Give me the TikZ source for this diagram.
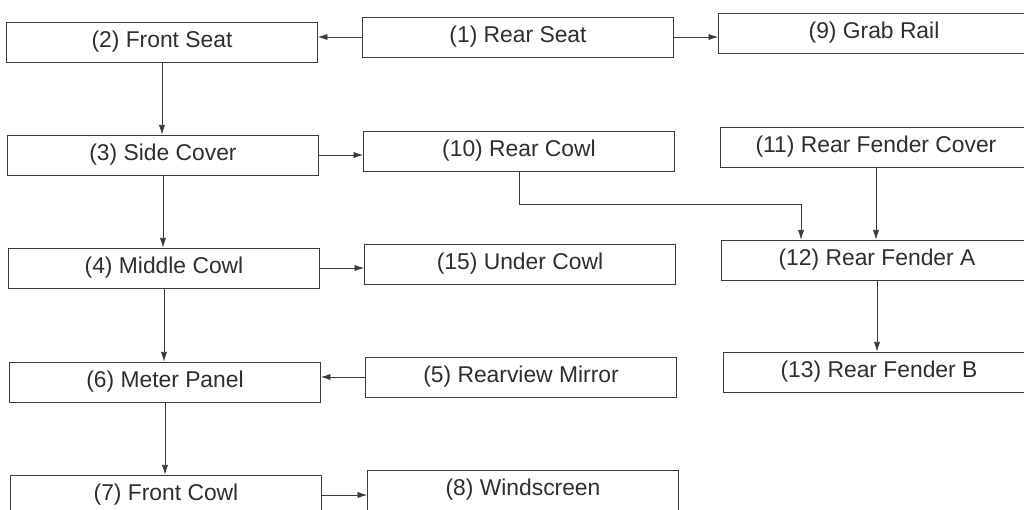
\documentclass[tikz,border=0pt]{standalone}
\usepackage{fontspec}
\setmainfont{Liberation Sans}
\usepackage{xcolor}
\usetikzlibrary{arrows.meta}
\definecolor{inkc}{HTML}{2E2E2E}
\definecolor{linec}{HTML}{3A3A3A}

\begin{document}
\begin{tikzpicture}[x=0.02cm, y=-0.02cm,
    part/.style={draw=linec, thin, text=inkc, minimum width=6.22cm, minimum height=0.8cm,
      inner sep=0pt, font=\fontsize{13}{15}\selectfont},
    arr/.style={draw=linec, thin, -{Latex[length=5.5pt, width=3.5pt]}}]
  \useasboundingbox (0,0) rectangle (1024,510);
  % left column
  \node[part] (fseat) at (162,42)  {(2) Front Seat};
  \node[part] (side)  at (163,155) {(3) Side Cover};
  \node[part] (mcowl) at (164,268) {(4) Middle Cowl};
  \node[part] (meter) at (165,382) {(6) Meter Panel};
  \node[part] (fcowl) at (166,495) {(7) Front Cowl};
  % middle column
  \node[part] (rseat)  at (518,37)  {(1) Rear Seat};
  \node[part] (rcowl)  at (519,151) {(10) Rear Cowl};
  \node[part] (ucowl)  at (520,264) {(15) Under Cowl};
  \node[part] (mirror) at (521,377) {(5) Rearview Mirror};
  \node[part] (wind)   at (523,490) {(8) Windscreen};
  % right column
  \node[part] (grab)    at (874,33)  {(9) Grab Rail};
  \node[part] (rfcover) at (876,147) {(11) Rear Fender Cover};
  \node[part] (rfa)     at (877,260) {(12) Rear Fender A};
  \node[part] (rfb)     at (879,372) {(13) Rear Fender B};

  \draw[arr] (rseat.west) -- (rseat.west -| fseat.east);
  \draw[arr] (rseat.east) -- (rseat.east -| grab.west);
  \draw[arr] (side.east) -- (side.east -| rcowl.west);
  \draw[arr] (mcowl.east) -- (mcowl.east -| ucowl.west);
  \draw[arr] (mirror.west) -- (mirror.west -| meter.east);
  \draw[arr] (fcowl.east) -- (fcowl.east -| wind.west);
  \foreach \a/\b in {fseat/side, side/mcowl, mcowl/meter, meter/fcowl, rfcover/rfa, rfa/rfb} {
    \draw[arr] (\a.south) -- (\a.south |- \b.north);
  }
  \draw[arr] (rcowl.south) -- ++(0,33) -| ([xshift=-1.52cm]rfa.north);
\end{tikzpicture}
\end{document}
